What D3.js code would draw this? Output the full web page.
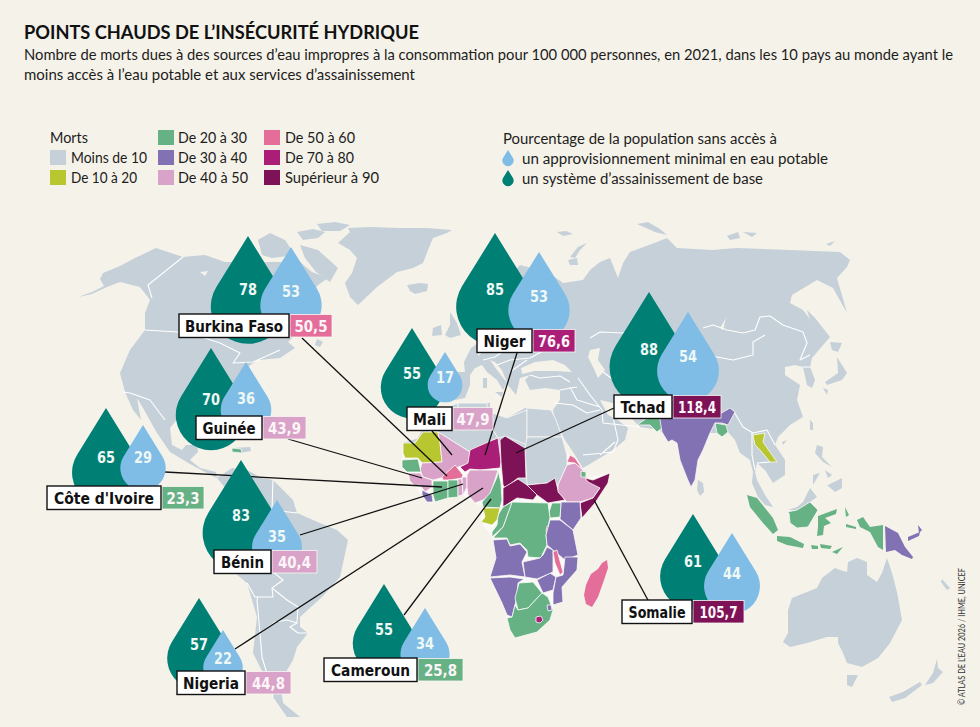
<!DOCTYPE html>
<html lang="fr"><head><meta charset="utf-8">
<script src="https://cdn.jsdelivr.net/npm/d3@7/dist/d3.min.js"></script>
<style>html,body{margin:0;padding:0;background:#f5f2ea}svg{display:block}</style></head>
<body><svg id="c" width="980" height="727"></svg>
<script>
// ---------- statistics ----------
const countries = ["Côte d'Ivoire","Burkina Faso","Guinée","Bénin","Nigeria","Cameroun","Mali","Niger","Tchad","Somalie"];
const sanitation = [65,78,70,83,57,55,55,85,88,61];
const drinkingWater = [29,53,36,35,22,34,17,53,54,44];
const deaths = [23.3,50.5,43.9,40.4,44.8,25.8,47.9,76.6,118.4,105.7];
const deathLabels = ["23,3","50,5","43,9","40,4","44,8","25,8","47,9","76,6","118,4","105,7"];
const legendClasses = ["Moins de 10","De 10 à 20","De 20 à 30","De 30 à 40","De 40 à 50","De 50 à 60","De 70 à 80","Supérieur à 90"];
const classColors = ["#c5d0d8","#b8c62f","#66b285","#8272b4","#d9a3c9","#e56d9a","#ab1e78","#7d1257"];

const landGrey = [
 // North and Central America
 [[78,297],[92,292],[104,286],[100,279],[103,273],[120,266],[135,258],[156,248],[183,257],[205,255],[225,262],[240,262],[262,262],[280,262],[300,262],[312,272],[328,278],[318,285],[306,300],[300,330],[288,342],[295,348],[280,358],[258,360],[240,372],[236,392],[226,408],[228,428],[222,430],[216,414],[195,418],[178,418],[170,428],[172,445],[182,450],[186,445],[197,445],[198,452],[190,460],[200,468],[216,472],[217,478],[205,472],[190,464],[170,452],[157,433],[143,408],[137,398],[141,420],[133,410],[125,392],[120,373],[130,350],[145,330],[145,313],[150,300],[140,287],[120,282],[107,287],[92,294]],
 // Arctic Canada
 [[297,232],[313,229],[325,232],[318,238],[303,240]],[[317,224],[335,222],[350,225],[340,231],[322,231]],[[258,240],[270,233],[285,240],[295,255],[272,258],[262,255]],[[300,245],[318,250],[338,268],[330,282],[316,272],[305,258]],
 [[232,448],[250,447],[251,451],[240,453],[232,452]],[[197,438],[215,441],[230,447],[216,445],[200,442]],[[317,339],[323,342],[320,347],[315,345]],
 // Greenland, Iceland, British Isles
 [[338,243],[350,232],[348,228],[370,227],[400,228],[427,228],[452,230],[447,233],[433,238],[428,250],[423,263],[413,268],[397,272],[377,287],[358,305],[350,297],[345,283],[352,273],[357,258],[350,250]],
 [[407,285],[420,283],[428,284],[427,291],[415,294],[410,291]],
 [[450,312],[457,323],[461,335],[450,338],[445,335],[450,325]],[[433,328],[441,325],[442,335],[432,336]],
 // Eurasia
 [[434,395],[436,372],[465,372],[464,362],[471,348],[482,340],[492,332],[490,310],[495,292],[520,265],[548,272],[563,283],[583,280],[590,270],[600,262],[610,258],[618,278],[623,263],[630,252],[657,242],[667,238],[677,248],[712,250],[737,248],[790,250],[840,252],[850,260],[847,267],[837,278],[847,313],[833,288],[817,280],[792,295],[790,303],[803,310],[812,322],[830,337],[812,358],[810,367],[815,380],[812,388],[807,385],[803,367],[795,365],[785,367],[785,375],[800,385],[797,400],[803,417],[790,425],[778,437],[775,445],[785,460],[785,475],[773,483],[765,470],[757,463],[755,472],[757,480],[765,495],[773,507],[765,505],[758,497],[752,483],[753,472],[750,460],[740,453],[735,440],[728,432],[717,433],[710,433],[703,450],[698,460],[695,480],[691,487],[687,478],[680,460],[677,443],[672,440],[668,442],[660,430],[640,427],[630,417],[623,412],[613,403],[600,400],[608,415],[618,420],[628,428],[625,440],[613,450],[600,458],[583,468],[575,455],[565,440],[555,420],[553,410],[560,400],[560,390],[545,388],[530,390],[525,380],[530,375],[520,378],[516,395],[508,385],[502,370],[495,362],[490,360],[497,370],[507,383],[503,390],[497,380],[487,372],[482,365],[475,368],[470,375],[470,385],[465,398],[445,402]],
 // Arctic and Pacific islands
 [[557,232],[566,231],[573,234],[563,236]],[[570,257],[578,247],[587,243],[580,250],[575,258]],[[568,260],[577,258],[578,265],[570,265]],[[637,224],[648,222],[660,229],[667,235],[655,232]],[[727,236],[738,232],[740,238],[730,240]],[[743,232],[757,233],[752,237]],[[826,244],[835,241],[830,246]],
 [[807,310],[815,318],[830,337],[827,337],[810,320]],[[830,342],[842,343],[838,352],[832,350]],[[837,357],[847,373],[842,380],[827,385],[825,382],[838,373]],[[823,388],[828,390],[827,395]],
 [[810,420],[813,423],[813,430],[810,430]],[[782,442],[787,440],[783,445]],
 [[817,445],[823,447],[822,457],[832,467],[823,462],[815,453]],[[813,475],[820,473],[813,485]],[[828,485],[842,478],[842,488],[835,492],[827,485]],[[825,470],[832,475],[828,478]],
 [[698,480],[703,483],[704,492],[700,496],[697,490]],[[483,378],[487,378],[487,388],[483,388]],[[495,392],[503,392],[502,397]],
 [[788,510],[797,507],[803,502],[810,488],[817,497],[810,502],[797,510]],
 // South America
 [[217,478],[232,468],[247,470],[262,478],[273,480],[293,500],[297,513],[320,523],[337,530],[348,540],[340,577],[322,597],[300,617],[300,627],[308,633],[297,647],[293,660],[280,682],[283,703],[300,717],[287,717],[273,697],[265,677],[253,653],[257,617],[247,583],[235,573],[227,553],[240,520],[235,500]],
 // Northern Africa
 [[403,443],[415,443],[425,425],[440,410],[458,403],[490,403],[490,412],[507,418],[525,408],[551,410],[556,420],[567,455],[567,465],[558,485],[527,485],[500,468],[470,450],[438,432]],
 // Oceania
 [[783,642],[788,633],[788,610],[792,598],[817,588],[822,578],[835,568],[840,570],[847,572],[848,562],[857,558],[867,562],[867,575],[877,582],[882,573],[887,558],[892,573],[897,592],[902,620],[890,643],[878,658],[862,667],[847,663],[843,653],[838,643],[838,637],[827,637],[807,643],[790,647]],
 [[847,675],[858,675],[852,687],[847,685]],[[937,659],[938,668],[943,672],[933,683],[925,685],[933,673]],[[920,682],[922,685],[905,698],[892,702],[889,697],[903,692]],[[942,579],[950,588],[947,590],[941,582]]
];
const innerWaters = [
 [[521,368],[535,362],[553,360],[565,365],[572,372],[555,371],[535,371],[522,374]],
 [[590,350],[600,348],[598,360],[605,370],[598,378],[593,367],[588,357]],
 [[720,328],[726,318],[723,330]],[[200,272],[208,271],[205,276]]
];
const borderLines = [
 [[183,257],[148,285],[152,298]],[[145,330],[178,332],[205,338],[220,343],[240,353],[233,363],[253,362],[280,350]],[[123,392],[130,393],[150,400],[165,420]],
 [[273,572],[283,580],[272,588],[287,600],[298,607],[297,623],[290,627],[298,633],[308,633]],[[257,600],[258,597],[273,597],[272,588]],[[257,600],[260,633],[262,657],[268,677],[273,697]],[[260,633],[275,622],[287,620],[297,623]],[[247,583],[255,597],[258,597]],[[255,525],[262,560],[273,572]],[[273,480],[272,510],[297,513]],
 [[478,355],[490,345],[500,340]],[[483,360],[495,357],[505,350],[530,345],[560,345]],[[497,365],[510,360],[530,358],[545,350]],[[510,372],[520,365],[527,360]],[[540,335],[555,345],[572,350]],[[530,375],[540,378],[560,376],[570,382]],
 [[555,403],[573,405],[587,413],[600,410]],[[583,455],[613,452],[618,440],[613,417]],[[600,455],[615,442]],[[577,400],[600,407]],[[570,387],[577,400]],[[560,390],[577,387]],[[602,410],[603,423],[640,427]],[[590,338],[600,332],[623,333],[640,330]],[[603,372],[620,385],[633,380],[650,385]],[[578,378],[590,395],[602,410]],
 [[703,328],[713,325],[727,330],[743,333],[755,330],[760,317],[770,316],[783,325],[803,332],[807,343],[800,360],[810,355]],[[700,355],[717,357],[733,360],[753,355],[753,342],[765,335]],[[733,410],[743,427],[753,433],[767,430],[775,445]],[[752,433],[752,455],[755,470]],[[770,462],[757,463]],[[803,367],[810,367]]
];
// Sub-Saharan outline: the pale ground that shows through as borders between countries
const africaGround = [[403,443],[438,432],[470,450],[527,437],[570,455],[585,478],[610,473],[595,503],[582,518],[573,530],[578,555],[577,570],[562,587],[563,602],[553,605],[553,610],[537,632],[515,638],[507,618],[502,603],[490,577],[496,558],[492,537],[481,522],[483,507],[475,503],[463,495],[447,498],[433,503],[422,495],[410,480],[402,467],[402,460]];
// [label, estimated deaths per 100 000 (read from the map colour), outline]
const landShapes = [
 ["Maroc",5,[[425,425],[440,410],[458,403],[458,412],[442,420],[430,432]]],
 ["Algérie",5,[[458,403],[487,403],[487,420],[498,438],[488,442],[470,452],[438,432],[430,432],[442,420],[458,412]]],
 ["Libye",5,[[490,412],[507,418],[527,410],[527,445],[505,436],[498,438],[490,425]]],
 ["Égypte",5,[[527,408],[551,410],[556,420],[562,437],[527,437]]],
 ["Soudan",5,[[527,437],[562,437],[567,455],[567,465],[558,485],[547,483],[527,485],[525,448]]],
 ["Mauritanie",15,[[403,443],[415,443],[423,432],[438,432],[440,442],[442,462],[422,463],[418,458],[405,458],[403,453]]],
 ["Mali",47.9,[[438,432],[470,452],[470,463],[458,467],[445,477],[433,480],[423,477],[420,470],[422,463],[442,462],[440,442]]],
 ["Sénégal",25,[[402,460],[418,459],[421,472],[407,472],[402,467]]],
 ["Guinée",43.9,[[408,473],[420,473],[423,477],[432,480],[432,487],[425,492],[420,485],[415,486],[410,481]]],
 ["Liberia",35,[[422,490],[432,495],[433,502],[427,502],[422,495]]],
 ["Burkina Faso",50.5,[[442,477],[455,465],[463,475],[462,478],[450,480],[443,480]]],
 ["Côte d'Ivoire",23.3,[[433,481],[448,481],[448,498],[435,502],[433,495]]],
 ["Ghana",25,[[448,480],[458,480],[458,497],[448,498]]],
 ["Togo",45,[[458,479],[462,479],[463,495],[458,496]]],
 ["Bénin",40.4,[[462,477],[467,477],[467,487],[463,495]]],
 ["Niger",76.6,[[470,450],[488,442],[498,438],[501,462],[500,468],[480,470],[470,469],[465,472],[460,467],[468,463]]],
 ["Nigeria",44.8,[[467,475],[470,470],[480,470],[495,470],[498,470],[490,495],[483,500],[475,503],[468,495],[467,487]]],
 ["Cameroun",25.8,[[498,470],[501,483],[502,500],[500,508],[483,507],[482,502],[490,493],[497,477]]],
 ["Tchad",118.4,[[500,440],[505,436],[525,448],[526,478],[518,478],[505,488],[503,485],[501,462]]],
 ["Centrafrique",95,[[503,488],[518,479],[527,485],[537,495],[533,500],[517,498],[503,507]]],
 ["Soudan du Sud",95,[[527,485],[547,483],[555,478],[558,490],[565,500],[548,503],[537,495]]],
 ["Éthiopie",45,[[558,485],[567,465],[575,463],[583,470],[587,478],[600,488],[593,498],[580,502],[567,502],[558,492]]],
 ["Érythrée",55,[[567,462],[570,455],[575,458],[583,470],[575,463]]],
 ["Djibouti",25,[[581,471],[586,472],[586,477],[581,477]]],
 ["Somalie",105.7,[[585,478],[593,480],[610,473],[608,483],[595,503],[582,518],[580,503],[593,498],[600,488],[588,482]]],
 ["Kenya",35,[[561,502],[580,502],[581,518],[573,530],[560,519]]],
 ["Ouganda",25,[[552,503],[561,503],[560,517],[550,518],[549,512]]],
 ["RD Congo",25,[[512,502],[548,503],[550,518],[546,535],[547,545],[542,555],[542,558],[528,557],[527,550],[520,543],[510,545],[507,538],[493,538],[503,527]]],
 ["Congo",25,[[503,507],[512,502],[503,527],[492,537],[492,532],[497,525],[498,515]]],
 ["Gabon",15,[[483,508],[500,508],[497,520],[492,525],[481,522],[485,517]]],
 ["Burundi",55,[[547,526],[550,526],[549,532],[546,532]]],
 ["Angola",35,[[493,540],[507,539],[510,546],[520,544],[527,552],[522,562],[525,577],[510,575],[490,577],[496,558]]],
 ["Namibie",35,[[490,578],[510,577],[524,579],[518,583],[517,597],[512,617],[507,615],[502,603]]],
 ["Botswana",25,[[519,583],[533,582],[542,593],[528,608],[518,610],[515,598]]],
 ["Zimbabwe",35,[[537,580],[550,573],[556,577],[553,590],[543,593]]],
 ["Zambie",35,[[523,562],[540,558],[543,555],[547,547],[553,550],[553,567],[553,572],[537,579],[525,577]]],
 ["Tanzanie",35,[[550,520],[560,520],[573,530],[578,555],[565,560],[553,550],[547,545],[546,535]]],
 ["Mozambique",35,[[565,557],[578,557],[577,570],[562,587],[563,602],[553,605],[553,593],[556,577],[563,575]]],
 ["Malawi",55,[[553,552],[557,550],[563,572],[560,575],[555,563]]],
 ["Afrique du Sud",25,[[507,618],[512,617],[515,605],[518,610],[528,608],[542,593],[548,597],[553,610],[550,620],[537,632],[515,638],[510,630]]],
 ["Lesotho",75,[[536,617],[541,616],[543,620],[540,623],[536,622]]],
 ["Eswatini",35,[[547,605],[551,605],[552,610],[548,611]]],
 ["Pakistan",25,[[637,425],[647,418],[650,402],[668,402],[662,428],[657,432],[650,425]]],
 ["Inde",35,[[660,420],[665,400],[718,400],[718,415],[730,408],[735,412],[728,425],[722,423],[715,423],[713,427],[710,433],[703,450],[698,460],[695,480],[691,487],[687,478],[680,460],[677,443],[672,440],[668,442],[662,432]]],
 ["Bangladesh",25,[[715,423],[726,425],[728,432],[722,437],[717,433]]],
 ["Laos",15,[[753,435],[765,433],[763,442],[777,462],[770,462],[760,450],[755,445]]],
 ["Kalimantan",25,[[787,512],[797,510],[810,502],[818,510],[808,527],[797,528],[790,523],[789,513]]],
 ["Haïti",25,[[232,448],[241,449],[242,453],[232,452]]]
];
const islandShapes = [
 ["Madagascar",55,[[602,563],[607,560],[608,568],[604,580],[598,597],[592,607],[586,604],[584,595],[586,585],[591,574],[598,569]]],
 ["Sumatra",25,[[747,495],[757,498],[773,518],[778,530],[773,534],[763,523],[750,507]]],
 ["Java",25,[[777,536],[790,537],[804,544],[803,548],[787,545],[777,541]]],
 ["Sulawesi",25,[[818,516],[837,509],[836,514],[825,518],[831,523],[824,526],[823,535],[817,536],[818,527]]],
 ["Halmahera",25,[[845,507],[849,515],[846,517]]],
 ["Seram",25,[[846,524],[856,527],[856,529],[846,527]]],
 ["Papouasie",25,[[857,520],[863,517],[870,527],[883,525],[883,550],[878,547],[870,532],[860,527]]],
 ["Timor",25,[[811,545],[818,546],[818,549],[812,549]]],
 ["Flores",25,[[820,544],[832,546],[830,549],[821,548]]],
 ["Timor-Est",25,[[832,552],[843,547],[837,554]]],
 ["Papouasie-NG",35,[[885,526],[898,533],[905,547],[913,557],[912,559],[902,555],[895,550],[886,552]]],
 ["Nouvelle-Bretagne",35,[[908,537],[920,532],[919,536],[908,541]]],
 ["Bougainville",35,[[918,525],[922,530],[919,533]]]
];

// ---------- annotation layout (pixels of the 980×727 frame) ----------
const dropAnchors = [[106,408,143,425],[248,236,291,247],[211,348,246,362],[241,460,277,500],[199,598,223,630],[384,584,425,608],[412,328,445,352],[495,233,539,252],[649,292,688,312],[693,514,732,533]];
const nameBoxes = [[47,486,114],[179,314,110],[196,416,66],[214,550,57],[177,671,68],[324,658,93],[407,407,45],[477,329,55],[614,395,58],[622,600,70]];
const leaderLines = [[165,472,442,487],[302,338,447,476],[288,439,422,478],[300,535,463,484],[235,649,483,488],[404,615,491,499],[432,431,452,455],[517,353,485,455],[614,408,516,453],[649,602,594,500]];
const valueWidths = [42,42,43,45,45,45,40,42,48,51];
const nameTextWidths = [100,98,53,43,56,79,33,42,45,57];
const valueTextWidths = [33,33,33,33,33,33,33,32,38,38];

// ---------- drawing ----------
const svg = d3.select("#c");
const C = {bg:"#f5f2ea",teal:"#007f74",blue:"#7fbce6",ink:"#1d1d1b"};
const textFont = "Lato, 'Open Sans', sans-serif", boldFont = "'DejaVu Sans', sans-serif";
const deathColor = d3.scaleThreshold().domain([10,20,30,40,50,60,80]).range(classColors);
const poly = c => ({type:"Polygon",coordinates:[[...c,c[0]]]});
const geo = d3.geoPath(d3.geoIdentity());
svg.append("rect").attr("width",980).attr("height",727).attr("fill",C.bg);

function fitted(g,x,y,txt,len,size,weight,fill){
  return g.append("text").attr("x",x).attr("y",y).attr("font-family",textFont).attr("font-size",size)
   .attr("font-weight",weight||400).attr("fill",fill||C.ink).attr("textLength",len).attr("lengthAdjust","spacingAndGlyphs").text(txt);
}
function boldLabel(g,x,y,txt,len,fill){
  return g.append("text").attr("x",x-len/2).attr("y",y).attr("font-family",boldFont).attr("font-weight",700).attr("font-size",15)
   .attr("fill",fill).attr("textLength",len).attr("lengthAdjust","spacingAndGlyphs").text(txt);
}
// titles
fitted(svg,24,39,"POINTS CHAUDS DE L’INSÉCURITÉ HYDRIQUE",395,19.5,700,"#111");
fitted(svg,24,60,"Nombre de morts dues à des sources d’eau impropres à la consommation pour 100 000 personnes, en 2021, dans les 10 pays au monde ayant le",929,15);
fitted(svg,24,80,"moins accès à l’eau potable et aux services d’assainissement",391,15);

// legend
const legendSlots = [[50,150,71,76],[50,170,71,66],[158,130,178,69],[158,150,178,69],[158,170,178,70],[264,130,285,70],[264,150,285,69],[264,170,285,94]];
fitted(svg,50,143,"Morts",38,15.5);
const lg = svg.append("g");
legendClasses.forEach((t,i)=>{
  const s=legendSlots[i];
  lg.append("rect").attr("x",s[0]).attr("y",s[1]).attr("width",16).attr("height",15).attr("fill",classColors[i]);
  fitted(lg,s[2],s[1]+13,t,s[3],15.5);
});
fitted(svg,503,144,"Pourcentage de la population sans accès à",274,15.5);
fitted(svg,522,164,"un approvisionnement minimal en eau potable",306,15.5);
fitted(svg,522,184,"un système d’assainissement de base",241,15.5);

// drop glyph
function dropPath(w){
  const r=w/2,h=1.45*w,cy=h-r,s=r/cy,a=Math.asin(s),tx=r*Math.cos(a),ty=cy-r*s;
  const p=d3.path(); p.moveTo(0,0); p.lineTo(tx,ty);
  p.arc(0,cy,r,-a,Math.PI+a,false); p.closePath(); return p.toString();
}
svg.append("path").attr("d",dropPath(11)).attr("transform","translate(508,150)").attr("fill",C.blue);
svg.append("path").attr("d",dropPath(11)).attr("transform","translate(508,170)").attr("fill",C.teal);

// map
const map = svg.append("g");
map.append("path").datum(poly(africaGround)).attr("d",geo).attr("fill","#fbfaf6");
map.selectAll("path.land").data(landGrey).join("path").attr("class","land").attr("d",d=>geo(poly(d))).attr("fill",classColors[0]);
map.selectAll("path.water").data(innerWaters).join("path").attr("class","water").attr("d",d=>geo(poly(d))).attr("fill",C.bg);
map.append("path").datum({type:"MultiLineString",coordinates:borderLines}).attr("d",geo).attr("fill","none").attr("stroke","#fff").attr("stroke-width",1.1).attr("stroke-linejoin","round");
map.selectAll("path.ctry").data(landShapes).join("path").attr("class","ctry").attr("d",d=>geo(poly(d[2]))).attr("fill",d=>deathColor(d[1])).attr("stroke","#fbfaf6").attr("stroke-width",0.8).attr("stroke-linejoin","round");
map.selectAll("path.isle").data(islandShapes).join("path").attr("class","isle").attr("d",d=>geo(poly(d[2]))).attr("fill",d=>deathColor(d[1]));

// leader lines
svg.append("g").selectAll("line").data(leaderLines).join("line")
 .attr("x1",d=>d[0]).attr("y1",d=>d[1]).attr("x2",d=>d[2]).attr("y2",d=>d[3]).attr("stroke","#111").attr("stroke-width",1.3);

// drops and labels
const widthScale = d3.scaleSqrt().domain([0,88]).range([0,79]);
const boxH=23.5;
countries.forEach((name,i)=>{
  const [tx,ty,bx,by]=dropAnchors[i], g=svg.append("g");
  [[sanitation[i],tx,ty,C.teal],[drinkingWater[i],bx,by,C.blue]].forEach(([v,x,y,col])=>{
    const w=widthScale(v);
    g.append("path").attr("d",dropPath(w)).attr("transform",`translate(${x},${y})`).attr("fill",col);
    boldLabel(g,x,y+0.725*w+5.5,String(v),18,"#eef8f5");
  });
  const [nx,ny,nw]=nameBoxes[i], vw=valueWidths[i];
  g.append("rect").attr("x",nx+nw+1).attr("y",ny+0.5).attr("width",vw).attr("height",boxH-1).attr("fill",deathColor(deaths[i])).attr("stroke","#fbf7f2").attr("stroke-width",0.8);
  boldLabel(g,nx+nw+1+vw/2,ny+17.5,deathLabels[i],valueTextWidths[i],"#fdf6f8");
  g.append("rect").attr("x",nx).attr("y",ny).attr("width",nw).attr("height",boxH).attr("fill","#fff").attr("stroke","#111").attr("stroke-width",1.4);
  boldLabel(g,nx+nw/2,ny+17.5,name,nameTextWidths[i],"#111");
});

// credit
svg.append("text").attr("transform","translate(965,705) rotate(-90)").attr("font-family",textFont).attr("font-size",10).attr("fill","#333").attr("textLength",137).attr("lengthAdjust","spacingAndGlyphs").text("© ATLAS DE L’EAU 2026 / IHME, UNICEF");
</script></body></html>
